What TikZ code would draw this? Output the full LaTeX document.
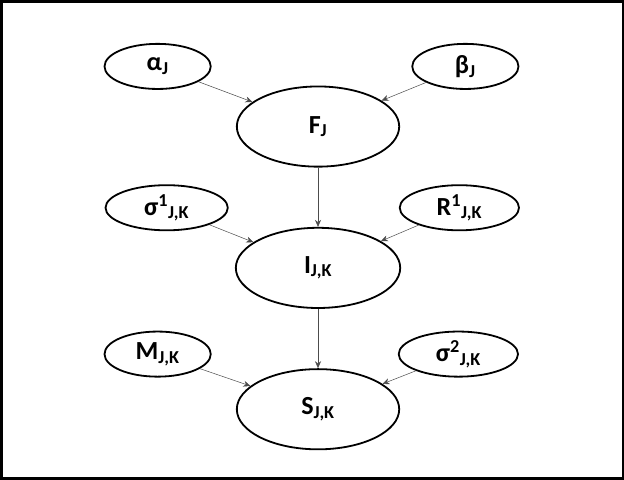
\documentclass[tikz,border=0pt]{standalone}
\usepackage{fontspec}
\setmainfont{Carlito}
\usetikzlibrary{shapes.geometric,arrows.meta}
\begin{document}
\begin{tikzpicture}[x=1pt,y=-1pt,
  sm/.style={ellipse,draw,line width=1.8pt,minimum width=106pt,minimum height=45pt,inner sep=0pt,font=\bfseries\fontsize{26}{28}\selectfont},
  bg/.style={ellipse,draw,line width=1.8pt,minimum width=162pt,minimum height=80pt,inner sep=0pt,font=\bfseries\fontsize{26}{28}\selectfont},
  ar/.style={-{Stealth[length=7pt,width=6pt]},line width=0.5pt,gray!60!black}]
\draw[line width=2.5pt] (2,2) rectangle (622,478);
\node[sm] (a) at (158,67) {α\textsubscript{J}};
\node[sm] (b) at (465,67) {β\textsubscript{J}};
\node[bg] (f) at (318,127) {F\textsubscript{J}};
\node[sm,minimum width=122pt] (s1) at (167,208) {σ\textsuperscript{1}\textsubscript{J,K}};
\node[sm,minimum width=119pt] (r1) at (459,208) {R\textsuperscript{1}\textsubscript{J,K}};
\node[bg,minimum width=164pt] (i) at (318,268) {I\textsubscript{J,K}};
\node[sm] (m) at (158,354) {M\textsubscript{J,K}};
\node[sm,minimum width=119pt] (s2) at (458,354) {σ\textsuperscript{2}\textsubscript{J,K}};
\node[bg] (s) at (318,409) {S\textsubscript{J,K}};
\draw[ar] (a) -- (f);
\draw[ar] (b) -- (f);
\draw[ar] (f) -- (i);
\draw[ar] (s1) -- (i);
\draw[ar] (r1) -- (i);
\draw[ar] (i) -- (s);
\draw[ar] (m) -- (s);
\draw[ar] (s2) -- (s);
\end{tikzpicture}
\end{document}
